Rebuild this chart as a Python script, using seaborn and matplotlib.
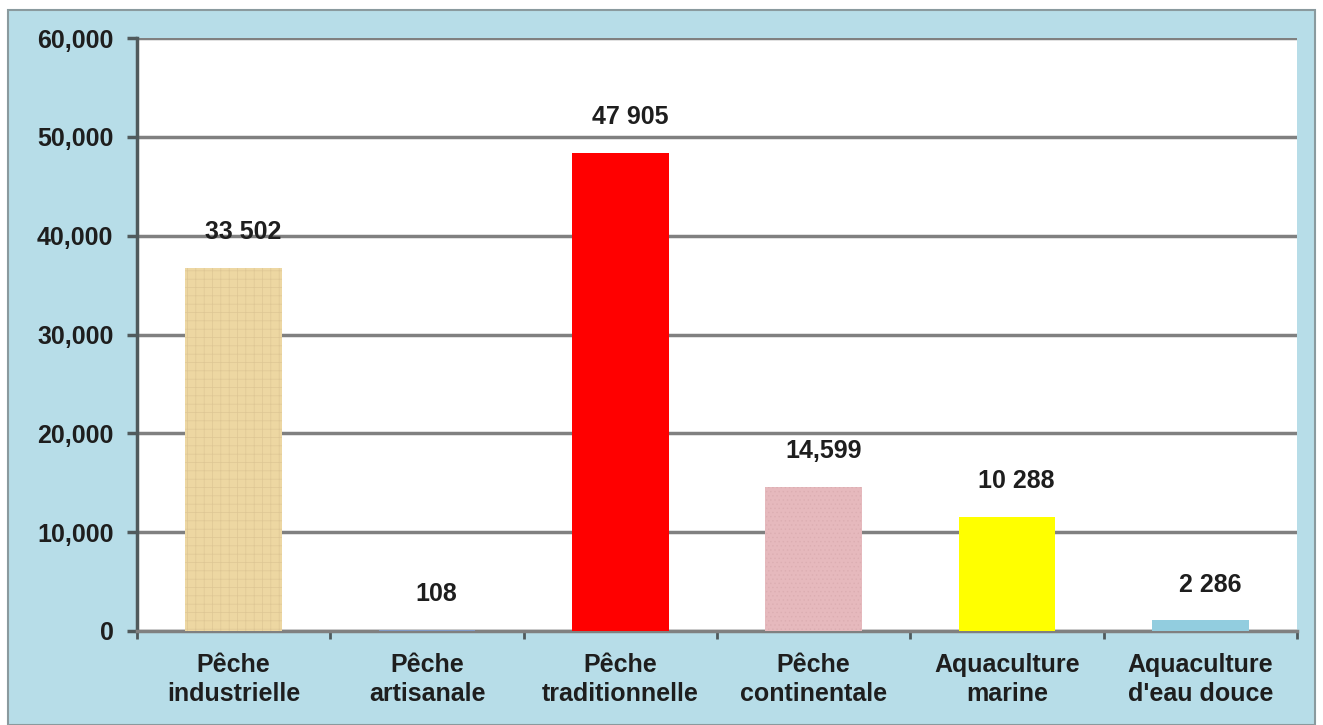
import matplotlib.pyplot as plt
import matplotlib.patches as mpatches
import matplotlib.ticker as mticker
import seaborn as sns
import pandas as pd

# Data
categories = ['Pêche\nindustrielle', 'Pêche\nartisanale', 'Pêche\ntraditionnelle',
              'Pêche\ncontinentale', 'Aquaculture\nmarine', "Aquaculture\nd'eau douce"]
bar_heights = [36750, 108, 48400, 14600, 11550, 1100]
value_labels = ['33 502', '108', '47 905', '14,599', '10 288', '2 286']
colors = ['#EDD7A2', '#7F98C4', '#FF0000', '#E6B9BD', '#FFFF00', '#92CDDF']

df = pd.DataFrame({'cat': categories, 'val': bar_heights})

sns.set_style('white')
plt.rcParams['font.family'] = ['Liberation Sans', 'DejaVu Sans']
plt.rcParams['hatch.linewidth'] = 0.5

fig = plt.figure(figsize=(13.23, 7.25), dpi=100)
fig.patch.set_facecolor('white')
# light blue chart area background
fig.patches.append(mpatches.Rectangle((8 / 1323, 0), 1307 / 1323, 715 / 725,
                                      transform=fig.transFigure, facecolor='#B7DDE8',
                                      edgecolor='#8A9A9E', linewidth=1.5, zorder=-5))

ax = fig.add_axes([137 / 1323, 1 - 631 / 725, 1160 / 1323, 593 / 725])
ax.set_facecolor('white')

sns.barplot(data=df, x='cat', y='val', hue='cat', palette=colors, legend=False,
            width=0.5, saturation=1, linewidth=0, ax=ax, zorder=3)

# rough textures on the two patterned bars
textures = {0: ('++', '#DEC795'), 3: ('....', '#DCAEB2')}
for i, bar in enumerate(ax.patches):
    if i in textures:
        bar.set_hatch(textures[i][0])
        bar.set_edgecolor(textures[i][1])
        bar.set_linewidth(0)

for i, (h, lab) in enumerate(zip(bar_heights, value_labels)):
    ax.annotate(lab, (i, h), xytext=(7, 17), textcoords='offset points',
                ha='center', va='bottom', fontsize=18, fontweight='bold', color='#1E1E1E',
                zorder=4)

ax.set_ylim(0, 60000)
ax.set_xlim(-0.5, len(categories) - 0.5)
ax.yaxis.set_major_locator(mticker.MultipleLocator(10000))
ax.yaxis.set_major_formatter(mticker.FuncFormatter(lambda v, p: f'{int(v):,}'))
ax.grid(axis='y', color='#808080', linewidth=2.5, zorder=1)
ax.set_axisbelow(True)

ax.set_xlabel('')
ax.set_ylabel('')
for s in ['top', 'right']:
    ax.spines[s].set_visible(False)
ax.spines['left'].set_color('#505A5C')
ax.spines['left'].set_linewidth(2.5)
ax.spines['bottom'].set_color('#808080')
ax.spines['bottom'].set_linewidth(2.5)

ax.tick_params(axis='y', which='major', left=True, length=7, width=2.5, color='#505A5C',
               labelsize=18, pad=10, labelcolor='#1E1E1E')
for t in ax.get_yticklabels():
    t.set_fontweight('bold')

# category tick labels at centers, tick marks at boundaries
ax.set_xticks(range(len(categories)))
ax.set_xticklabels(categories, fontsize=18, fontweight='bold', color='#1E1E1E', linespacing=1.3)
ax.tick_params(axis='x', which='major', bottom=False, pad=12)
ax.set_xticks([i - 0.5 for i in range(len(categories) + 1)], minor=True)
ax.tick_params(axis='x', which='minor', bottom=True, length=6, width=2, color='#505A5C')

fig.savefig('out.png', dpi=100)
